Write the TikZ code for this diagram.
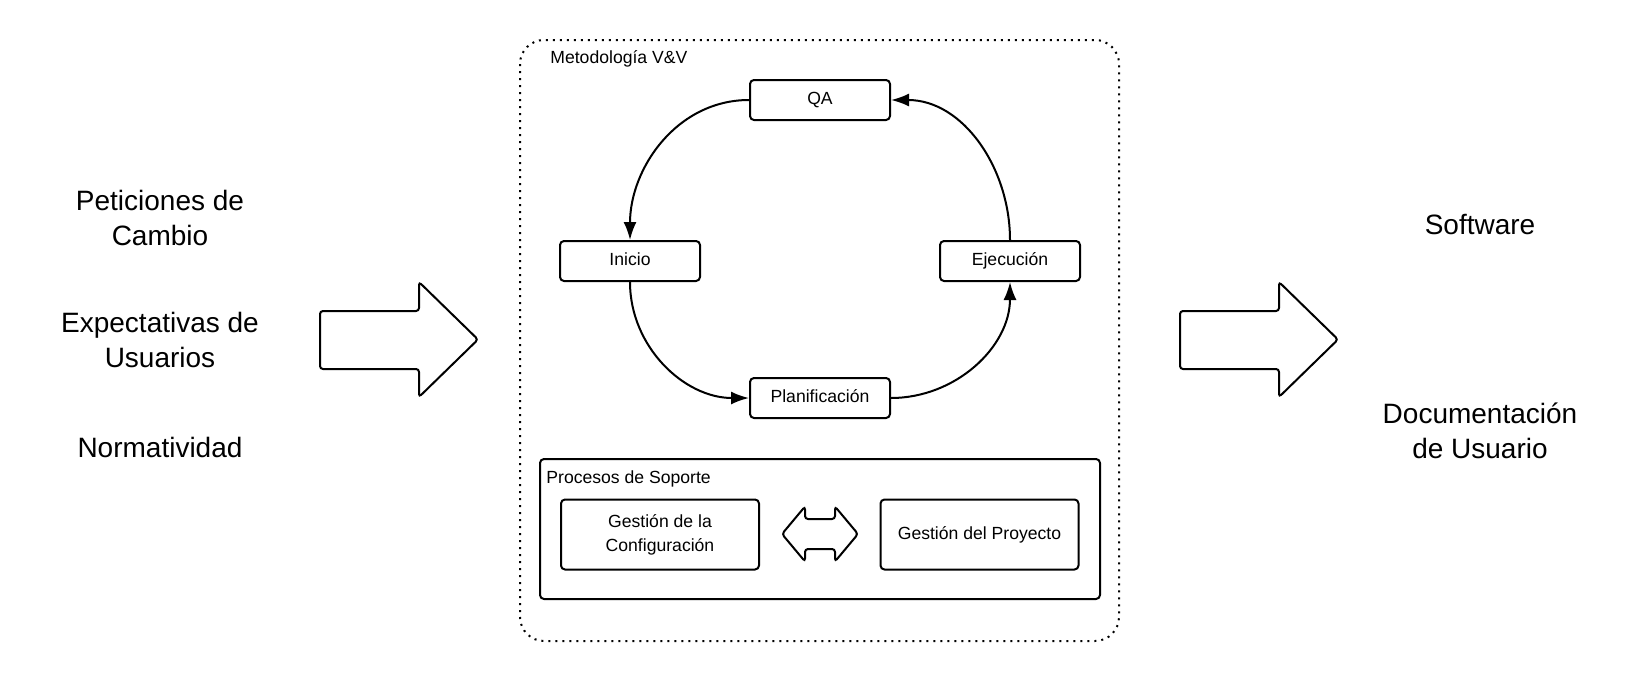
\documentclass[tikz,border=0pt]{standalone}
\usepackage{fontspec}
\setmainfont{Liberation Sans}
\usetikzlibrary{arrows.meta}
\tikzset{>={Latex[length=9pt,width=6.5pt]}}
\tikzstyle{phase}=[draw,line width=1pt,rounded corners=2pt,minimum width=70pt,minimum height=20pt,inner sep=0pt,text height=6.5pt,text depth=1.8pt,font=\fontsize{8.8}{12}\selectfont]
\tikzstyle{process}=[draw,line width=1pt,rounded corners=2pt,minimum width=99pt,minimum height=35pt,inner sep=0pt,align=center,font=\fontsize{8.8}{12}\selectfont]
\tikzstyle{flow}=[->,line width=1pt]
\tikzstyle{title}=[anchor=base west,inner sep=0pt,font=\fontsize{8.8}{12}\selectfont]
\tikzstyle{big text}=[align=center,font=\fontsize{14}{17.5}\selectfont]
\newcommand{\bigarrow}[1]
{  % #1 = left end of the arrow
  \draw[line width=1pt,rounded corners=1.5pt] (#1,311) -- ++(99,0) -- ++(0,-29)
        -- ++(59,57.5) -- ++(-59,57.5) -- ++(0,-28) -- ++(-99,0) -- cycle;
}

\begin{document}
\begin{tikzpicture}[x=0.5pt,y=-0.5pt]
  \useasboundingbox (0,0) rectangle (1640,680);
  % inputs and outputs
  \node[big text] (cambio) at (160,218) {Peticiones de\\Cambio};
  \node[big text] (expect) at (160,340) {Expectativas de\\Usuarios};
  \node[big text] (norma) at (160,447) {Normatividad};
  \node[big text] (soft) at (1480,225) {Software};
  \node[big text] (docu) at (1480,431) {Documentación\\de Usuario};
  \bigarrow{320}
  \bigarrow{1180}
  % V&V methodology
  \draw[line width=1pt,dash pattern=on 1pt off 2.5pt,rounded corners=12pt] (520,40) rectangle (1119,641);
  \node[title] (vv) at (550,63) {Metodología V\&V};
  \node[phase] (qa) at (820,100) {QA};
  \node[phase] (inicio) at (630,261) {Inicio};
  \node[phase] (ejec) at (1010,261) {Ejecución};
  \node[phase] (plan) at (820,398) {Planificación};
  \draw[flow] (qa.west) to[out=180,in=90] (inicio.north);
  \draw[flow] (inicio.south) to[out=-90,in=180] (plan.west);
  \draw[flow] (plan.east) to[out=0,in=-90] (ejec.south);
  \draw[flow] (ejec.north) to[out=90,in=0] (qa.east);
  % support processes
  \draw[line width=1pt,rounded corners=2pt] (540,459) rectangle (1100,599);
  \node[title] (soporte) at (546,483) {Procesos de Soporte};
  \node[process] (config) at (660,534.5) {Gestión de la\\Configuración};
  \node[process] (proyecto) at (979.5,534.5) {Gestión del Proyecto};
  \draw[line width=1pt,rounded corners=1.5pt] (782,534) -- (805,506.5) -- (805,519) -- (835,519)
        -- (835,506.5) -- (858,534) -- (835,561.5) -- (835,549) -- (805,549) -- (805,561.5) -- cycle;
\end{tikzpicture}
\end{document}
